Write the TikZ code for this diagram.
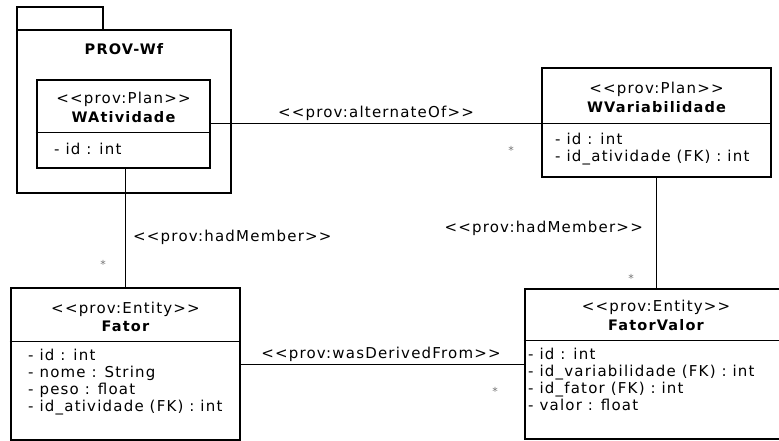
\documentclass[tikz,border=0pt]{standalone}
\usepackage{fontspec}
\setmainfont{DejaVu Sans}[LetterSpace=8,Ligatures=ResetAll]
\begin{document}
\begin{tikzpicture}[x=1pt,y=-1pt,
  every node/.style={font=\fontsize{15}{17}\selectfont},
  cls/.style={draw,line width=2.6pt,fill=white,inner sep=0pt},
  pkgbox/.style={draw,line width=2.3pt,fill=white,inner sep=0pt},
  divider/.style={line width=0.9pt},
  conn/.style={line width=1pt},
  txt/.style={inner sep=0pt,text height=10.5pt,text depth=3pt},
  boldtxt/.style={txt,font=\fontsize{14.5}{17}\selectfont\bfseries},
  lefttxt/.style={txt,anchor=west},
  mult/.style={inner sep=0pt,text=black!55,font=\fontsize{11}{11}\selectfont}]
\useasboundingbox (0,0) rectangle (779,441);
% package
\node[pkgbox,minimum width=86pt,minimum height=23pt] (pkgtab) at (60,18.5) {};
\node[pkgbox,minimum width=214pt,minimum height=163pt] (pkg) at (124,111.5) {};
\node[boldtxt] (pkgname) at (124,51) {PROV-Wf};
% classes
\node[cls,minimum width=173pt,minimum height=88pt] (wat) at (123.5,124) {};
\node[cls,minimum width=229pt,minimum height=109pt] (wvar) at (656.5,122.5) {};
\node[cls,minimum width=229pt,minimum height=152pt] (fator) at (125.5,364) {};
\node[cls,minimum width=262pt,minimum height=150pt] (fv) at (656,364) {};
% connectors
\draw[conn] (wat.east) -- (wat.east -| wvar.west);
\draw[conn] (fator.north) -- (fator.north |- wat.south);
\draw[conn] (wvar.south) -- (wvar.south |- fv.north);
\draw[conn] (fator.east) -- (fator.east -| fv.west);
% dividers
\draw[divider] ([yshift=-54pt]wat.north west) -- ([yshift=-54pt]wat.north east);
\draw[divider] ([yshift=-57pt]wvar.north west) -- ([yshift=-57pt]wvar.north east);
\draw[divider] ([yshift=-55pt]fator.north west) -- ([yshift=-55pt]fator.north east);
\draw[divider] ([yshift=-53pt]fv.north west) -- ([yshift=-53pt]fv.north east);
% WAtividade
\node[txt] (watst) at (123.5,100) {<{}<prov:Plan>{}>};
\node[boldtxt] (watnm) at (123.5,119) {WAtividade};
\node[lefttxt] (wata1) at (54,151) {- id : int};
% WVariabilidade
\node[txt] (wvarst) at (656.5,90) {<{}<prov:Plan>{}>};
\node[boldtxt] (wvarnm) at (656.5,109) {WVariabilidade};
\node[lefttxt] (wvara1) at (555,141) {- id : int};
\node[lefttxt] (wvara2) at (555,158) {- id\_atividade (FK) : int};
% Fator
\node[txt] (fatst) at (125.5,310) {<{}<prov:Entity>{}>};
\node[boldtxt] (fatnm) at (125.5,328) {Fator};
\node[lefttxt] (fata1) at (28,357) {- id : int};
\node[lefttxt] (fata2) at (28,374) {- nome : String};
\node[lefttxt] (fata3) at (28,391) {- peso : float};
\node[lefttxt] (fata4) at (28,408) {- id\_atividade (FK) : int};
% FatorValor
\node[txt] (fvst) at (656,308) {<{}<prov:Entity>{}>};
\node[boldtxt] (fvnm) at (656,327) {FatorValor};
\node[lefttxt] (fva1) at (528,356) {- id : int};
\node[lefttxt] (fva2) at (528,373) {- id\_variabilidade (FK) : int};
\node[lefttxt] (fva3) at (528,390) {- id\_fator (FK) : int};
\node[lefttxt] (fva4) at (528,407) {- valor : float};
% connector labels
\node[txt] (lalt) at (376,114) {<{}<prov:alternateOf>{}>};
\node[txt] (lder) at (381,355) {<{}<prov:wasDerivedFrom>{}>};
\node[lefttxt] (lhm1) at (133,238) {<{}<prov:hadMember>{}>};
\node[txt,anchor=east] (lhm2) at (643,229) {<{}<prov:hadMember>{}>};
% multiplicities
\node[mult] (m1) at (511,150) {*};
\node[mult] (m2) at (103,264) {*};
\node[mult] (m3) at (631,278) {*};
\node[mult] (m4) at (495,391) {*};
\end{tikzpicture}
\end{document}
